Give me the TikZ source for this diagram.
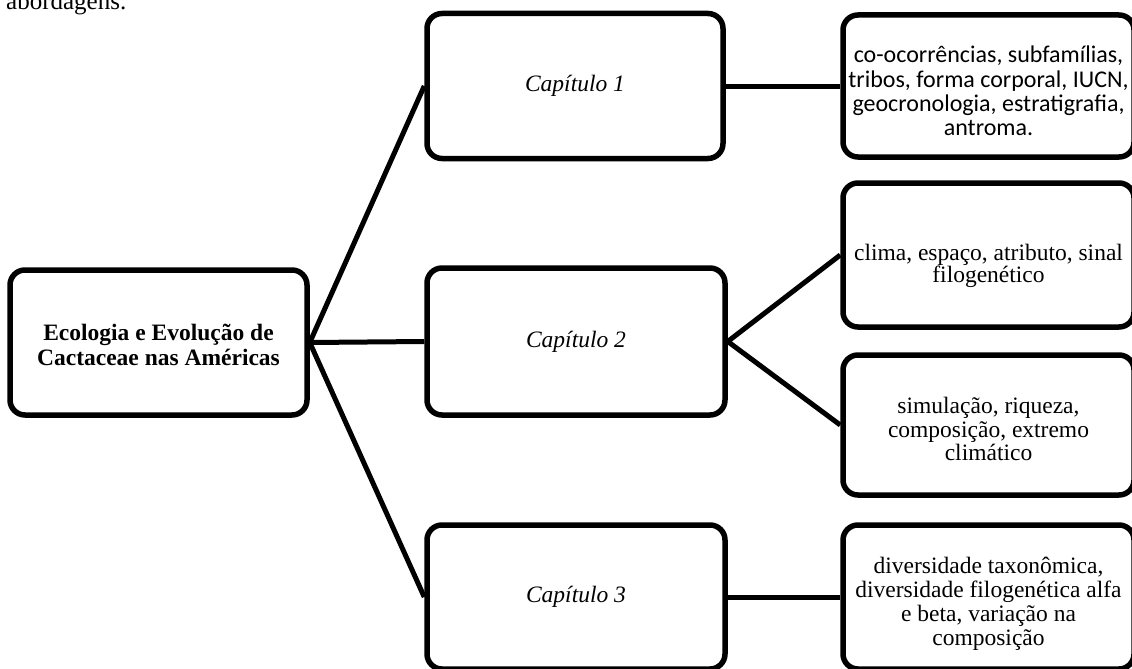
\documentclass[tikz,border=0pt]{standalone}
\usepackage{fontspec}
\setmainfont{Liberation Serif}
\newfontfamily\calfont{Carlito}
\begin{document}
\begin{tikzpicture}[x=1pt,y=-1pt,
  box/.style={draw=black, line width=5.5pt, rounded corners=15pt, inner sep=0pt, fill=white},
  link/.style={draw=black, line width=5pt},
  txt/.style={align=center, inner sep=0pt}]
\useasboundingbox (0,0) rectangle (1132,669);
% clipped leading text
\node[anchor=base west, inner sep=0pt, font=\fontsize{25}{26}\selectfont] (top) at (6,10) {abordagens.};
% root
\node[box, minimum width=297pt, minimum height=145pt] (root) at (158.5,342.5) {};
\node[txt, font=\bfseries\fontsize{23.5}{25}\selectfont] (roott) at ([yshift=-2pt]root.center)
  {Ecologia e Evolução de\\Cactaceae nas Américas};
% chapters
\node[box, minimum width=296pt, minimum height=145pt, font=\itshape\fontsize{23.5}{24.5}\selectfont] (c1) at (575,86) {Capítulo 1};
\node[box, minimum width=298pt, minimum height=147pt, font=\itshape\fontsize{23.5}{24.5}\selectfont] (c2) at (576,341.5) {Capítulo 2};
\node[box, minimum width=298pt, minimum height=144pt, font=\itshape\fontsize{23.5}{24.5}\selectfont] (c3) at (576,597) {Capítulo 3};
% right boxes
\node[box, minimum width=291pt, minimum height=142pt] (r1) at (988.5,86) {};
\node[txt, font=\calfont\fontsize{24}{24.3}\selectfont] (r1t) at ([yshift=-5pt]r1.center)
  {co-ocorrências, subfamílias,\\tribos, forma corporal, IUCN,\\geocronologia, estratigrafia,\\antroma.};
\node[box, minimum width=291pt, minimum height=144pt] (r2) at (988.5,255) {};
\node[txt, font=\fontsize{23.5}{20}\selectfont] (r2t) at ([yshift=-11pt]r2.center)
  {clima, espaço, atributo, sinal\\filogenético};
\node[box, minimum width=291pt, minimum height=140pt] (r3) at (988.5,425) {};
\node[txt, font=\fontsize{23.5}{23.5}\selectfont] (r3t) at ([yshift=-4pt]r3.center)
  {simulação, riqueza,\\composição, extremo\\climático};
\node[box, minimum width=291pt, minimum height=144pt] (r4) at (988.5,597) {};
\node[txt, font=\fontsize{23.5}{24}\selectfont] (r4t) at ([yshift=-7pt]r4.center)
  {diversidade taxonômica,\\diversidade filogenética alfa\\e beta, variação na\\composição};
% connectors
\draw[link] (root.east) -- (c1.west);
\draw[link] (root.east) -- (c2.west);
\draw[link] (root.east) -- (c3.west);
\draw[link] (c1.east) -- (r1.west);
\draw[link] (c2.east) -- (r2.west);
\draw[link] (c2.east) -- (r3.west);
\draw[link] (c3.east) -- (r4.west);
\end{tikzpicture}
\end{document}
